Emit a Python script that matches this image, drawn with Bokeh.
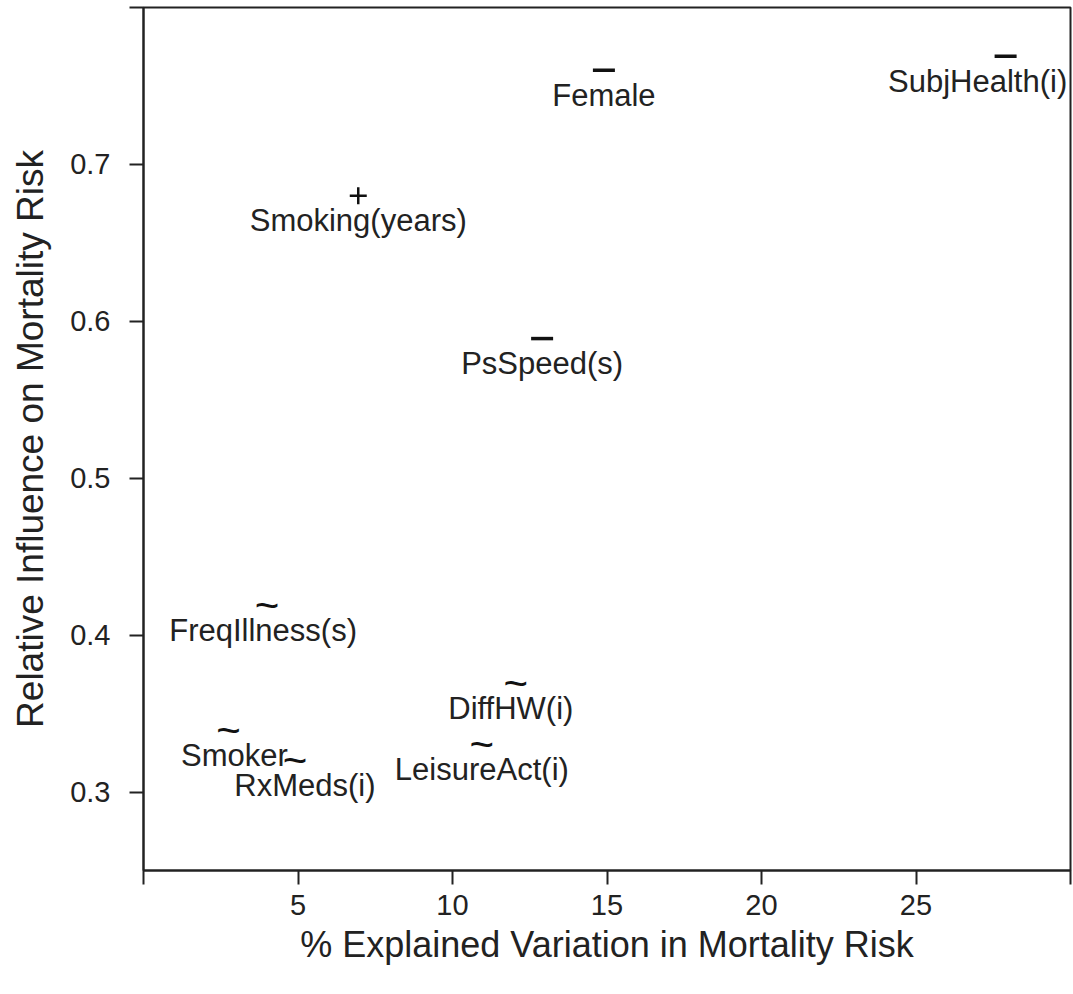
from bokeh.plotting import figure
from bokeh.models import FixedTicker, ColumnDataSource
from bokeh.core.properties import value
from bokeh.embed import file_html
from bokeh.resources import INLINE

# ---- data ----
names = ["SubjHealth(i)", "Female", "Smoking(years)", "PsSpeed(s)", "FreqIllness(s)",
         "DiffHW(i)", "LeisureAct(i)", "Smoker", "RxMeds(i)"]
explained = [27.9, 14.9, 6.95, 12.9, 4.0, 12.05, 10.95, 2.75, 4.9]
influence = [0.769, 0.760, 0.680, 0.589, 0.419, 0.369, 0.330, 0.339, 0.320]
direction = ["-", "-", "+", "-", "~", "~", "~", "~", "~"]
x_ticks = [0, 5, 10, 15, 20, 25, 30]
y_ticks = [0.3, 0.4, 0.5, 0.6, 0.7, 0.8]

# label horizontal nudges (pixels) - layout only
label_dx = [-28, 0, 0, 0, -4, -5, 0, 6, 10]

FONT = "Liberation Sans"
INK = "#222222"

src = ColumnDataSource(dict(x=explained, y=influence, name=names, dx=label_dx))

def subset(sym):
    idx = [i for i, d in enumerate(direction) if d == sym]
    return ColumnDataSource(dict(x=[explained[i] for i in idx],
                                 y=[influence[i] for i in idx],
                                 t=["~"] * len(idx)))

p = figure(width=1072, height=978, x_range=(0, 30), y_range=(0.25, 0.80),
           output_backend="svg", toolbar_location=None,
           min_border_left=143, min_border_right=2, min_border_top=7, min_border_bottom=108)
p.grid.visible = False
p.background_fill_color = "white"
p.border_fill_color = "white"
p.outline_line_color = INK
p.outline_line_width = 2

p.xaxis.ticker = FixedTicker(ticks=x_ticks)
p.yaxis.ticker = FixedTicker(ticks=y_ticks)
p.xaxis.major_label_overrides = {0: "", 30: ""}
p.yaxis.major_label_overrides = {0.8: ""}

for ax in (p.xaxis[0], p.yaxis[0]):
    ax.axis_line_color = INK
    ax.axis_line_width = 2
    ax.major_tick_line_color = INK
    ax.major_tick_line_width = 2
    ax.major_tick_out = 14
    ax.major_tick_in = 0
    ax.minor_tick_line_color = None
    ax.major_label_text_font = FONT
    ax.major_label_text_font_size = "29px"
    ax.major_label_text_color = INK
    ax.axis_label_text_font = FONT
    ax.axis_label_text_font_style = "normal"
    ax.axis_label_text_color = INK

p.xaxis.axis_label = "% Explained Variation in Mortality Risk"
p.yaxis.axis_label = "Relative Influence on Mortality Risk"
p.xaxis.axis_label_text_font_size = "36px"
p.yaxis.axis_label_text_font_size = "37px"
p.xaxis.major_label_standoff = 10
p.yaxis.major_label_standoff = 19
p.xaxis.axis_label_standoff = 6
p.yaxis.axis_label_standoff = 16
p.yaxis.major_label_orientation = "horizontal"

# direction symbols
p.scatter(x="x", y="y", source=subset("-"), marker="dash", size=22,
          line_color="#111111", line_width=3.5)
p.scatter(x="x", y="y", source=subset("+"), marker="cross", size=17,
          line_color="#111111", line_width=2.5)
p.text(x="x", y="y", text="t", source=subset("~"), text_font=value(FONT),
       text_font_size="42px", text_align="center",
       text_baseline="middle", text_color="#111111")
# labels below the symbols
p.text(x="x", y="y", text="name", source=src, text_font=value(FONT),
       text_font_size="31px", text_align="center", text_baseline="middle",
       x_offset="dx", y_offset=25, text_color=INK)

open("out.html", "w").write(file_html(p, INLINE))
